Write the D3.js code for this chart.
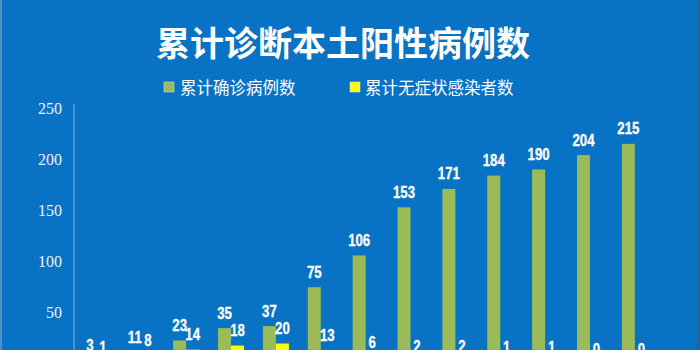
<!DOCTYPE html>
<html>
<head>
<meta charset="utf-8">
<script src="https://cdn.jsdelivr.net/npm/d3@7"></script>
<style>
  html, body { margin: 0; padding: 0; background: #0872c4; overflow: hidden; }
  svg { display: block; }
</style>
</head>
<body>
<div id="chart"></div>
<script>
// Cumulative local positive cases by reporting day
const categories = ["d1","d2","d3","d4","d5","d6","d7","d8","d9","d10","d11","d12","d13"];
const confirmed = [3, 11, 23, 35, 37, 75, 106, 153, 171, 184, 190, 204, 215];
const asymptomatic = [1, 8, 14, 18, 20, 13, 6, 2, 2, 1, 1, 0, 0];
const yTicks = [50, 100, 150, 200, 250];
const seriesNames = ["累计确诊病例数", "累计无症状感染者数"];
const seriesColors = ["#9bbb59", "#ffff00"];
const titleText = "累计诊断本土阳性病例数";

const W = 700, H = 350;
const svg = d3.select("#chart").append("svg").attr("width", W).attr("height", H);

svg.append("rect").attr("width", W).attr("height", H).attr("fill", "#0872c4");
// slide edge shading
svg.append("rect").attr("x", 0).attr("width", 2).attr("height", H).attr("fill", "#4f8fc6");
svg.append("rect").attr("x", W - 3).attr("width", 3).attr("height", H).attr("fill", "#2d5f96");

const x = d3.scaleBand().domain(categories).range([74, 657.3]).padding(0);
const y = d3.scaleLinear().domain([0, 250]).range([364, 108]);
const barW = 13;

// title
svg.append("text")
  .attr("x", 343).attr("y", 56)
  .attr("text-anchor", "middle")
  .attr("font-family", "'Noto Sans CJK SC', sans-serif")
  .attr("font-weight", "bold")
  .attr("font-size", 34)
  .attr("fill", "#ffffff")
  .text(titleText);

// legend
const legendPos = [{sx: 164, tx: 180}, {sx: 350, tx: 365}];
seriesNames.forEach((name, i) => {
  svg.append("rect")
    .attr("x", legendPos[i].sx).attr("y", 82).attr("width", 10).attr("height", 10)
    .attr("fill", seriesColors[i]).attr("stroke", "#d8d8d8").attr("stroke-width", 0.6);
  svg.append("text")
    .attr("x", legendPos[i].tx).attr("y", 94)
    .attr("font-family", "'Noto Sans CJK SC', sans-serif")
    .attr("font-size", 16.5)
    .attr("fill", "#ffffff")
    .text(name);
});

// y axis
const yAxis = d3.axisLeft(y).tickValues(yTicks).tickSize(0).tickPadding(12);
const gy = svg.append("g").attr("transform", "translate(74,0)").call(yAxis);
gy.select(".domain").attr("stroke", "#8fb4d8").attr("stroke-width", 1)
  .attr("d", "M0,104V" + H);
gy.selectAll(".tick text")
  .attr("font-family", "'Liberation Serif', 'Times New Roman', serif")
  .attr("font-size", 16)
  .attr("fill", "#eef2f8");

// bars with condensed bold value labels
const labelFont = "'Liberation Sans', Arial, sans-serif";
const groups = svg.append("g");
const data = categories.map((c, i) => ({c, a: confirmed[i], b: asymptomatic[i]}));

function drawSeries(key, offset, color) {
  groups.selectAll(null).data(data).enter().append("rect")
    .attr("x", d => x(d.c) + x.bandwidth() / 2 + offset)
    .attr("y", d => y(d[key]))
    .attr("width", barW)
    .attr("height", d => y(0) - y(d[key]))
    .attr("fill", color);
  groups.selectAll(null).data(data).enter().append("text")
    .attr("transform", d => "translate(" + (x(d.c) + x.bandwidth() / 2 + offset + barW / 2) + "," + (y(d[key]) - 9.5) + ") scale(0.8,1)")
    .attr("text-anchor", "middle")
    .attr("font-family", labelFont)
    .attr("font-weight", "bold")
    .attr("font-size", 16.5)
    .attr("stroke", "#ffffff")
    .attr("stroke-width", 0.3)
    .attr("fill", "#ffffff")
    .text(d => d[key]);
}
drawSeries("a", -barW, seriesColors[0]);
drawSeries("b", 0, seriesColors[1]);
</script>
</body>
</html>
